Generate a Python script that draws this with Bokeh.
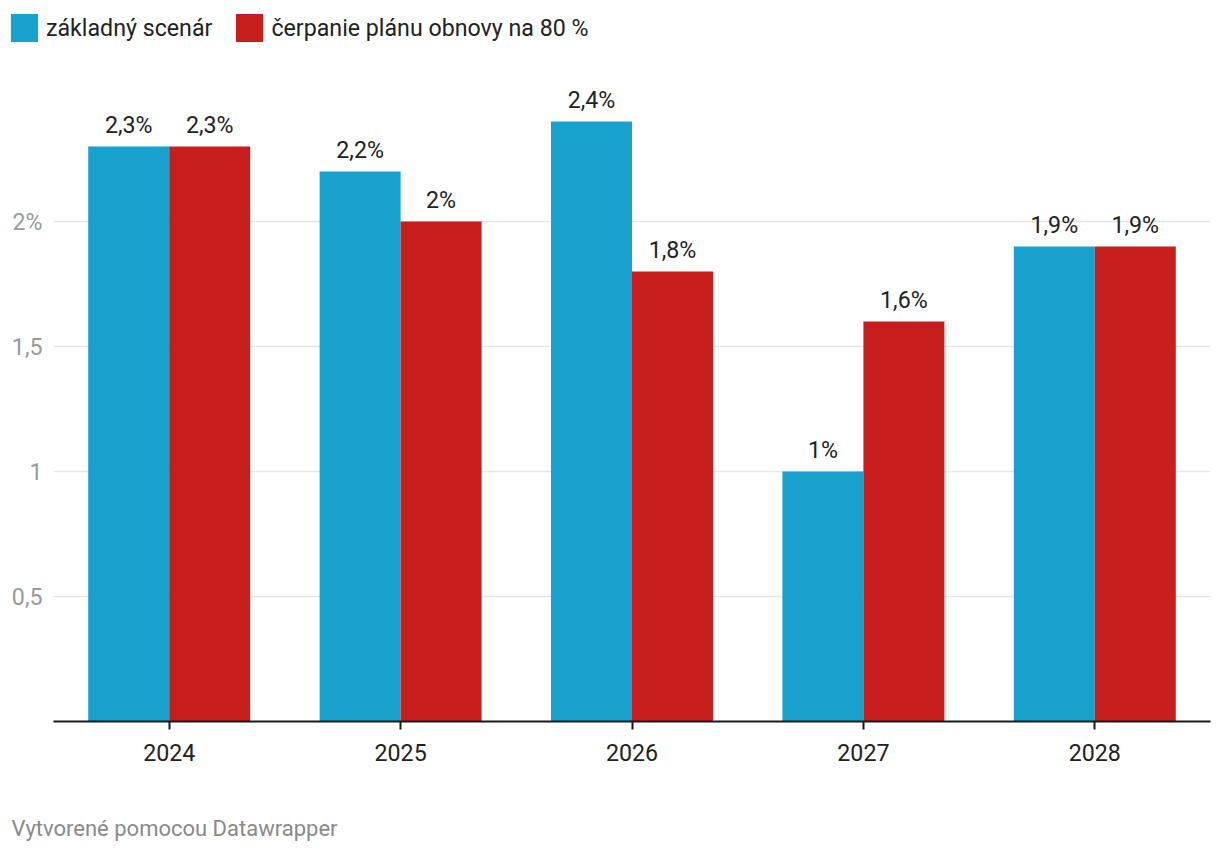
from bokeh.plotting import figure
from bokeh.models import (ColumnDataSource, FactorRange, Range1d, FixedTicker,
                          LabelSet, Label, Legend, LegendItem)
from bokeh.core.properties import value
from bokeh.transform import dodge
from bokeh.embed import file_html
from bokeh.resources import INLINE

years = ["2024", "2025", "2026", "2027", "2028"]
base = [2.3, 2.2, 2.4, 1.0, 1.9]
recovery = [2.3, 2.0, 1.8, 1.6, 1.9]
series_names = ["základný scenár", "čerpanie plánu obnovy na 80 %"]
y_ticks = [0.5, 1, 1.5, 2]
y_tick_labels = {0.5: "0,5", 1: "1", 1.5: "1,5", 2: "2%"}
footer = "Vytvorené pomocou Datawrapper"

BLUE = "#18a1cd"
RED = "#c71e1d"
FONT = "Roboto"
FS = "23.2px"


def fmt(v):
    s = f"{v:.1f}".rstrip("0").rstrip(".")
    return s.replace(".", ",") + "%"


src = ColumnDataSource(dict(
    year=years,
    base=base,
    rec=recovery,
    base_lbl=[fmt(v) for v in base],
    rec_lbl=[fmt(v) for v in recovery],
))


def strip(h):
    f = figure(width=1220, height=h, output_backend="svg", toolbar_location=None,
               x_range=FactorRange(*years), y_range=Range1d(10, 11),
               x_axis_type=None, y_axis_type=None,
               min_border_left=0, min_border_right=0, min_border_top=0,
               min_border_bottom=0)
    f.outline_line_color = None
    f.grid.grid_line_color = None
    return f


# ---- legend strip (own root, so its frame is not aligned to the chart) ----
lg = strip(71)
lr1 = lg.vbar(x="year", top="base", width=0.35, source=src,
              fill_color=BLUE, line_color=None, visible=False)
lr2 = lg.vbar(x="year", top="rec", width=0.35, source=src,
              fill_color=RED, line_color=None, visible=False)
legend = Legend(items=[LegendItem(label=series_names[0], renderers=[lr1]),
                       LegendItem(label=series_names[1], renderers=[lr2])],
                orientation="horizontal", location=(7, 26),
                glyph_width=34, glyph_height=35, label_height=35,
                label_standoff=5, spacing=20, padding=0, margin=0,
                border_line_color=None, background_fill_alpha=0,
                label_text_font=FONT, label_text_font_size=FS,
                label_text_color="#222222")
lg.add_layout(legend)

# ---- main chart ----
p = figure(width=1220, height=710, output_backend="svg", toolbar_location=None,
           x_range=FactorRange(*years, range_padding=0),
           y_range=Range1d(0, 2.6),
           min_border_left=53, min_border_right=10, min_border_top=0,
           min_border_bottom=60)
p.outline_line_color = None
p.background_fill_color = "white"
p.border_fill_color = "white"

p.vbar(x=dodge("year", -0.175, range=p.x_range), top="base", width=0.35,
       source=src, fill_color=BLUE, line_color=None)
p.vbar(x=dodge("year", 0.175, range=p.x_range), top="rec", width=0.35,
       source=src, fill_color=RED, line_color=None)

for col, lbl, off in (("base", "base_lbl", -0.175), ("rec", "rec_lbl", 0.175)):
    ls = LabelSet(x=dodge("year", off, range=p.x_range), y=col, text=lbl,
                  source=src, text_align="center", text_baseline="middle",
                  y_offset=22, text_font=value(FONT), text_font_size=value(FS),
                  text_color="#222222")
    p.add_layout(ls)

p.xaxis.axis_line_color = "#1a1a1a"
p.xaxis.axis_line_width = 2
p.xaxis.major_tick_line_color = "#1a1a1a"
p.xaxis.major_tick_line_width = 2
p.xaxis.major_tick_in = 0
p.xaxis.major_tick_out = 8
p.xaxis.minor_tick_line_color = None
p.xaxis.major_label_text_font = FONT
p.xaxis.major_label_text_font_size = FS
p.xaxis.major_label_text_color = "#222222"
p.xaxis.major_label_standoff = 14
p.xgrid.grid_line_color = None

p.yaxis.ticker = FixedTicker(ticks=y_ticks)
p.yaxis.major_label_overrides = y_tick_labels
p.yaxis.axis_line_color = None
p.yaxis.major_tick_line_color = None
p.yaxis.major_tick_in = 0
p.yaxis.major_tick_out = 0
p.yaxis.minor_tick_line_color = None
p.yaxis.major_label_text_font = FONT
p.yaxis.major_label_text_font_size = FS
p.yaxis.major_label_text_color = "#9a9a9a"
p.yaxis.major_label_standoff = 11
p.ygrid.grid_line_color = "#e5e5e5"
p.ygrid.grid_line_width = 1.5

# ---- footer strip ----
ft = strip(70)
ft.add_layout(Label(x=11, y=23, x_units="screen", y_units="screen",
                    text=footer, text_font=FONT, text_font_size="22px",
                    text_color="#8a8a8a", text_baseline="middle"))

open("out.html", "w").write(file_html([lg, p, ft], INLINE))
